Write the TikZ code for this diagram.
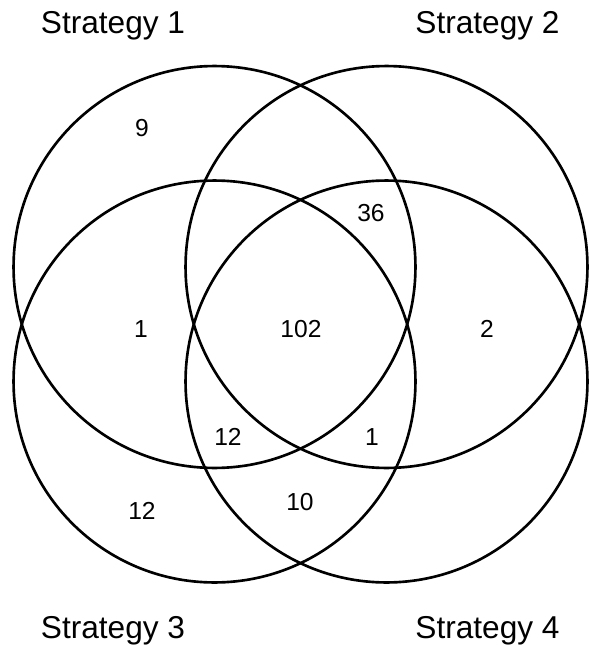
\documentclass[tikz,border=0pt]{standalone}
\usepackage{fontspec}
\setmainfont{Liberation Sans}
\usetikzlibrary{positioning}

\begin{document}
\begin{tikzpicture}[
  x=0.02cm, y=-0.02cm,
  venn/.style={draw, circle, line width=1.5pt, minimum size=8.04cm, inner sep=0pt},
  setlabel/.style={anchor=base, font=\fontsize{18}{20}\selectfont},
  count/.style={font=\fontsize{14}{16}\selectfont},
]
\useasboundingbox (0, 0) rectangle (589, 646);

% Four circles
\node[venn] (s1) at (214.5, 267) {};
\node[venn] (s2) at (386.5, 267) {};
\node[venn] (s3) at (214.5, 381.5) {};
\node[venn] (s4) at (386.5, 381.5) {};

% Labels
\node[setlabel] (l1) at (113, 33) {Strategy 1};
\node[setlabel] (l2) at (487.5, 33) {Strategy 2};
\node[setlabel] (l3) at (113, 638) {Strategy 3};
\node[setlabel] (l4) at (487.5, 638) {Strategy 4};

% Counts
\node[count] (n1) at (142, 128) {9};
\node[count] (n12) at (371, 213) {36};
\node[count] (n13) at (141, 329) {1};
\node[count] (n1234) at (301, 329) {102};
\node[count] (n2) at (487, 329) {2};
\node[count] (n134) at (228, 437) {12};
\node[count] (n124) at (372, 437) {1};
\node[count] (n3) at (142, 511) {12};
\node[count] (n34) at (300, 502) {10};
\end{tikzpicture}
\end{document}
